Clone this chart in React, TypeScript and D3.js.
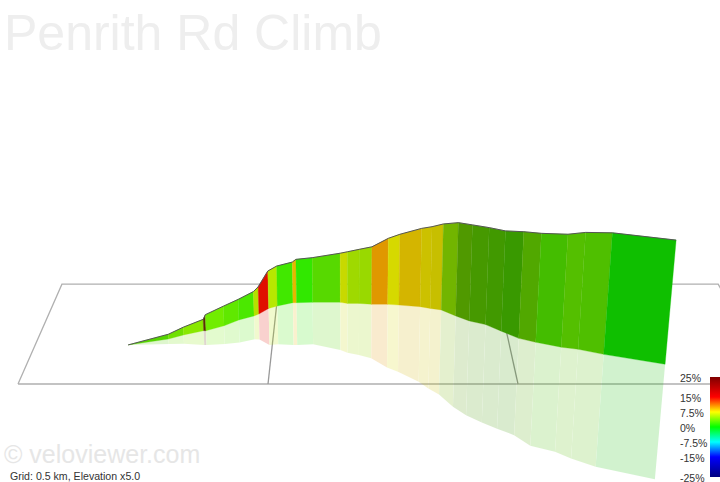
import * as d3 from 'd3'

const WIDTH = 720
const HEIGHT = 482

// route stations: along the grid (km), into the grid (km), height (m)
const distance = [
  0.196, 0.278, 0.308, 0.349, 0.354, 0.391, 0.421, 0.453, 0.463, 0.483, 0.502, 0.536, 0.544, 0.58, 0.642, 0.658, 0.684,
  0.712, 0.748, 0.773, 0.82, 0.842, 0.866, 0.896, 0.924, 0.958, 0.989, 1.023, 1.057, 1.108, 1.142, 1.192, 1.311,
]
const depth = [
  0.179, 0.208, 0.228, 0.249, 0.249, 0.274, 0.304, 0.325, 0.335, 0.365, 0.378, 0.396, 0.396, 0.398, 0.398, 0.392, 0.392,
  0.387, 0.387, 0.383, 0.374, 0.365, 0.357, 0.325, 0.299, 0.28, 0.247, 0.211, 0.192, 0.168, 0.158, 0.134, 0.088,
]
const elevation = [
  0, 2.0, 3.3, 4.9, 6.9, 8.5, 9.0, 10.7, 12.0, 16.6, 17.8, 18.2, 19.4, 20.0, 22.0, 23.1, 24.2, 25.7, 29.5, 31.6, 34.9,
  36.3, 38.1, 41.0, 41.9, 42.1, 43.1, 45.4, 46.1, 47.5, 49.0, 50.6, 51.0,
]
const reflection = [
  0, 2.1, 3.8, 6.15, 6.15, 7.9, 9.9, 10.2, 11.2, 16.3, 17.1, 19.0, 19.0, 18.8, 21.4, 22.1, 23.1, 24.1, 28.2, 29.8, 33.4,
  35.6, 37.5, 39.9, 41.2, 42.5, 42.0, 41.2, 43.8, 43.9, 45.8, 46.8, 47.2,
]

// one value per segment between stations
const gradient = [
  3.0, 3.7, 4.4, 11, 3.6, 3.1, 2.4, 6.1, 14.5, 5.9, 2.1, 9.1, 1.6, 3.0, 6.9, 5.5, 5.3, 9.9, 7.4, 8.6, 7.9, 7.8, 4.7,
  3.9, 3.4, 3.2, 2.8, 3.6, 2.7, 3.3, 3.1, 0.6,
]
const shade = [
  0.83, 0.88, 0.91, 0.35, 0.93, 0.91, 0.91, 0.88, 0.88, 0.91, 0.91, 0.91, 0.91, 0.85, 0.85, 0.85, 0.85, 0.88, 0.85,
  0.83, 0.8, 0.78, 0.71, 0.6, 0.6, 0.6, 0.6, 0.66, 0.74, 0.75, 0.75, 0.75,
]

const legendStops = [25, 15, 7.5, 0, -7.5, -15, -25]
const legendColors = ['#7f0000', '#ff0000', '#ffff00', '#00ff00', '#00ffff', '#0000ff', '#00007f']
const legendLabels = ['25%', '15%', '7.5%', '0%', '-7.5%', '-15%', '-25%']

const gridLinesKm = [0, 0.5, 1]
const GRID_END_KM = 1.512
const GRID_DEPTH_KM = 0.5

// perspective of the picture
const VANISH_X = 351
const VANISH_Y = -373
const FRONT_Y = 384
const DEPTH_FACTOR = 0.304
const VERTICAL_VANISH = 3530

const kmToX = d3.scaleLinear([0, 1], [18, 518])
const metresToPx = d3.scaleLinear([0, 1], [0, 2.5])
const gradientColor = d3.scaleLinear<string>(legendStops, legendColors).interpolate(d3.interpolateRgb)
const legendY = d3.scaleLinear([25, -25], [377, 477])

const project = (km: number, into: number, metres: number): [number, number] => {
  const k = 1 / (1 + DEPTH_FACTOR * into)
  const gx = VANISH_X + (kmToX(km) - VANISH_X) * k
  const gy = VANISH_Y + (FRONT_Y - VANISH_Y) * k
  const lift = metresToPx(metres) * k
  return [gx + ((gx - VANISH_X) * lift) / VERTICAL_VANISH, gy - lift]
}

const segmentColor = (i: number) => {
  const c = d3.rgb(gradientColor(gradient[i]))
  return d3.rgb(c.r * shade[i], c.g * shade[i], c.b * shade[i]).formatHex()
}

const line = d3.line()
const stations = d3.range(distance.length)
const top = (i: number) => project(distance[i], depth[i], elevation[i])
const foot = (i: number) => project(distance[i], depth[i], 0)
const mirror = (i: number) => project(distance[i], depth[i], -reflection[i])
const segments = d3.range(gradient.length)
const sans = 'Liberation Sans, Arial, sans-serif'

export default function App() {
  return (
    <svg
      width={WIDTH}
      height={HEIGHT}
      viewBox={`0 0 ${WIDTH} ${HEIGHT}`}
      style={{ position: 'absolute', left: 0, top: 0, background: '#fff' }}
      fontFamily={sans}
    >
      <text x={4} y={50} fontSize={50} fill="#eeeeee">
        Penrith Rd Climb
      </text>

      <g fill="none" stroke="#b0b0b0" strokeWidth={1.3}>
        <path
          d={
            line([
              project(0, 0, 0),
              project(GRID_END_KM, 0, 0),
              project(GRID_END_KM, GRID_DEPTH_KM, 0),
              project(0, GRID_DEPTH_KM, 0),
              project(0, 0, 0),
            ])!
          }
        />
        {gridLinesKm.slice(1).map((km) => (
          <path key={km} d={line([project(km, 0, 0), project(km, GRID_DEPTH_KM, 0)])!} stroke="#999" />
        ))}
      </g>

      <g opacity={0.19}>
        {segments.map((i) => (
          <path
            key={i}
            d={line([foot(i), foot(i + 1), mirror(i + 1), mirror(i)])! + 'Z'}
            fill={segmentColor(i)}
          />
        ))}
      </g>

      <g>
        {segments.map((i) => (
          <path
            key={i}
            d={line([top(i), top(i + 1), foot(i + 1), foot(i)])! + 'Z'}
            fill={segmentColor(i)}
            stroke={segmentColor(i)}
            strokeWidth={0.3}
          />
        ))}
      </g>
      <path d={line(stations.map(top))!} fill="none" stroke="#555" strokeWidth={1} />

      <defs>
        <linearGradient id="legend" x1={0} y1={0} x2={0} y2={1}>
          {legendStops.map((v, i) => (
            <stop key={v} offset={(legendY(v) - legendY(25)) / (legendY(-25) - legendY(25))} stopColor={legendColors[i]} />
          ))}
        </linearGradient>
      </defs>
      <rect x={710} y={legendY(25)} width={10} height={legendY(-25) - legendY(25)} fill="url(#legend)" />
      <g fontSize={10.5} fill="#333">
        {legendStops.map((v, i) => (
          <text key={v} x={680} y={legendY(v) + 4.5}>
            {legendLabels[i]}
          </text>
        ))}
      </g>

      <text x={4} y={463} fontSize={25} fill="#e6e6e6">
        © veloviewer.com
      </text>
      <text x={10} y={480} fontSize={10.6} fill="#333">
        Grid: 0.5 km, Elevation x5.0
      </text>
    </svg>
  )
}
